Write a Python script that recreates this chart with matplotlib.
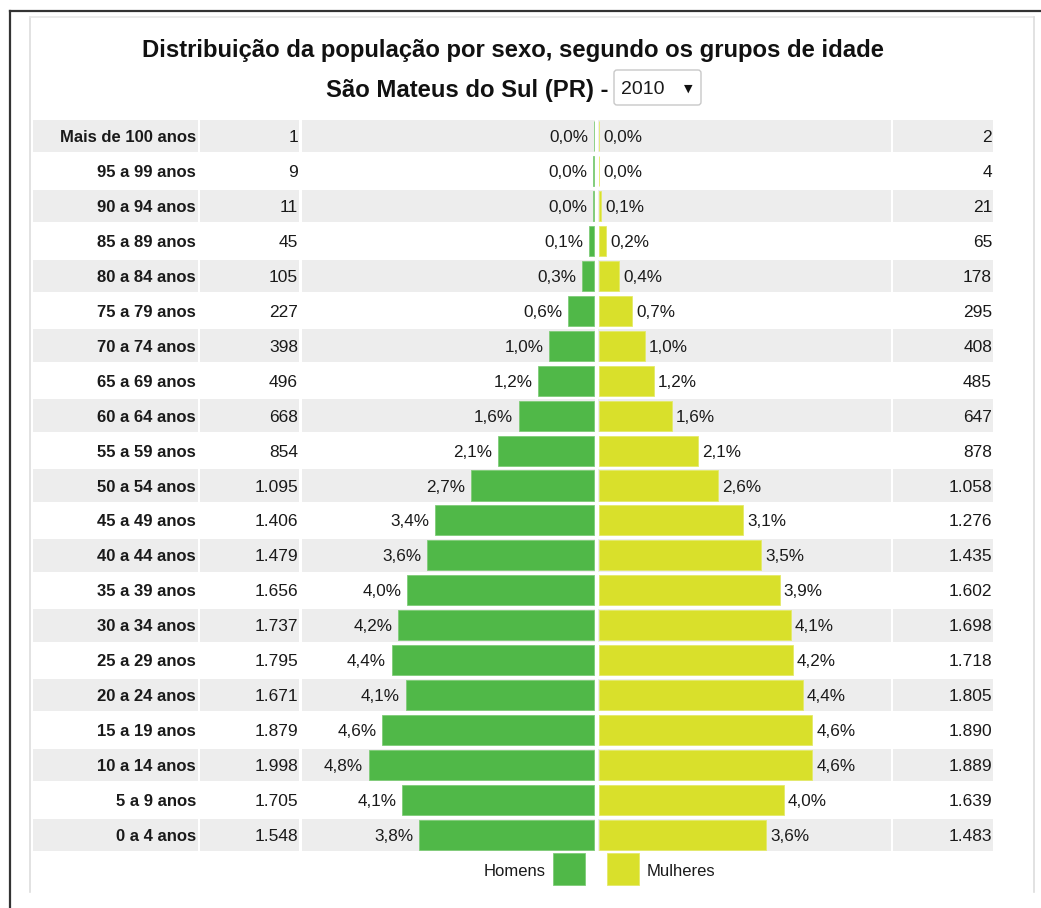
import matplotlib
matplotlib.use("Agg")
import matplotlib.pyplot as plt
from matplotlib.patches import FancyBboxPatch, Rectangle
import numpy as np

plt.rcParams['font.family'] = ['Liberation Sans', 'DejaVu Sans']

# dados (Censo 2010)
grupos = ["Mais de 100 anos", "95 a 99 anos", "90 a 94 anos", "85 a 89 anos",
          "80 a 84 anos", "75 a 79 anos", "70 a 74 anos", "65 a 69 anos",
          "60 a 64 anos", "55 a 59 anos", "50 a 54 anos", "45 a 49 anos",
          "40 a 44 anos", "35 a 39 anos", "30 a 34 anos", "25 a 29 anos",
          "20 a 24 anos", "15 a 19 anos", "10 a 14 anos", "5 a 9 anos", "0 a 4 anos"]
homens = [1, 9, 11, 45, 105, 227, 398, 496, 668, 854, 1095, 1406, 1479, 1656,
          1737, 1795, 1671, 1879, 1998, 1705, 1548]
mulheres = [2, 4, 21, 65, 178, 295, 408, 485, 647, 878, 1058, 1276, 1435, 1602,
            1698, 1718, 1805, 1890, 1889, 1639, 1483]
pct_homens = ["0,0%", "0,0%", "0,0%", "0,1%", "0,3%", "0,6%", "1,0%", "1,2%", "1,6%",
              "2,1%", "2,7%", "3,4%", "3,6%", "4,0%", "4,2%", "4,4%", "4,1%", "4,6%",
              "4,8%", "4,1%", "3,8%"]
pct_mulheres = ["0,0%", "0,0%", "0,1%", "0,2%", "0,4%", "0,7%", "1,0%", "1,2%", "1,6%",
                "2,1%", "2,6%", "3,1%", "3,5%", "3,9%", "4,1%", "4,2%", "4,4%", "4,6%",
                "4,6%", "4,0%", "3,6%"]
ano = "2010"

VERDE = "#50b848"
AMARELO = "#d9e02b"
CINZA = "#ededed"
TXT = "#1a1a1a"

W, H = 1041, 908
fig = plt.figure(figsize=(W / 100, H / 100), dpi=100)

def box(x0, y0, x1, y1):
    # pixel box -> figure fraction
    return [x0 / W, 1 - y1 / H, (x1 - x0) / W, (y1 - y0) / H]

# fundo / moldura em pixels
ax_bg = fig.add_axes([0, 0, 1, 1])
ax_bg.set_xlim(0, W)
ax_bg.set_ylim(H, 0)
ax_bg.axis("off")
ax_bg.plot([10, W], [11, 11], color="#333333", lw=1.6)
ax_bg.plot([10, 10], [11, H], color="#333333", lw=1.6)
ax_bg.plot([30, 30], [17, 892], color="#dddddd", lw=1.2)
ax_bg.plot([30, 1034], [17, 17], color="#e8e8e8", lw=1.2)
ax_bg.plot([1034, 1034], [17, 892], color="#dddddd", lw=1.2)

ax_bg.text(513, 51, "Distribuição da população por sexo, segundo os grupos de idade",
           ha="center", va="center", fontsize=17.2, fontweight="bold", color="#111111")
ax_bg.text(608, 91, "São Mateus do Sul (PR) -", ha="right", va="center",
           fontsize=17.2, fontweight="bold", color="#111111")
ax_bg.add_patch(FancyBboxPatch((614, 70), 87, 35, boxstyle="round,pad=0,rounding_size=3",
                               fc="white", ec="#c8c8c8", lw=1))
ax_bg.text(621, 90, ano, ha="left", va="center", fontsize=14, color=TXT)
ax_bg.text(688, 89, "▼", ha="center", va="center", fontsize=8, color="#111111",
           family="DejaVu Sans")

# tabela (linhas = faixas etarias)
n = len(grupos)
rows = np.arange(n)
ylim = (n - 0.5, -0.5)
ax_tab = fig.add_axes(box(33, 118.5, 993, 852.5))
ax_tab.set_xlim(33, 993)
ax_tab.set_ylim(*ylim)
ax_tab.axis("off")

cols = [(33, 198), (200, 299), (302, 595), (598, 891), (893, 993)]
cinza = rows[rows % 2 == 0]
for x0, x1 in cols:
    ax_tab.barh(cinza, x1 - x0, left=x0, height=0.93, color=CINZA, lw=0)

for i in rows:
    ax_tab.text(196, i, grupos[i], ha="right", va="center_baseline", fontsize=12,
                fontweight="bold", color=TXT)
    ax_tab.text(298, i, f"{homens[i]:,}".replace(",", "."), ha="right",
                va="center_baseline", fontsize=12.5, color=TXT)
    ax_tab.text(992, i, f"{mulheres[i]:,}".replace(",", "."), ha="right",
                va="center_baseline", fontsize=12.5, color=TXT)

# piramide
ax = fig.add_axes(box(302, 118.5, 891, 852.5))
lim = 2611
gap = 22
ax.set_xlim(-lim, lim)
ax.set_ylim(*ylim)
ax.axis("off")
h = np.array(homens)
m = np.array(mulheres)
ax.barh(rows, -h, left=-gap, height=0.86, color=VERDE, edgecolor="#7fcc78", lw=0.6)
ax.barh(rows, m, left=gap, height=0.86, color=AMARELO, edgecolor="#e4ea6a", lw=0.6)
for i in rows:
    ax.annotate(pct_homens[i], (-gap - h[i], i), xytext=(-4, 0), textcoords="offset points",
                ha="right", va="center_baseline", fontsize=12.3, color=TXT)
    ax.annotate(pct_mulheres[i], (gap + m[i], i), xytext=(3, 0), textcoords="offset points",
                ha="left", va="center_baseline", fontsize=12.3, color=TXT)

# legenda
ax_bg.text(546, 870, "Homens", ha="right", va="center_baseline", fontsize=12, color=TXT)
ax_bg.add_patch(Rectangle((553, 853), 32, 32, fc=VERDE, ec="#7fcc78", lw=0.6))
ax_bg.add_patch(Rectangle((607, 853), 32, 32, fc=AMARELO, ec="#e4ea6a", lw=0.6))
ax_bg.text(647, 870, "Mulheres", ha="left", va="center_baseline", fontsize=12, color=TXT)

fig.savefig("out.png", dpi=100)
